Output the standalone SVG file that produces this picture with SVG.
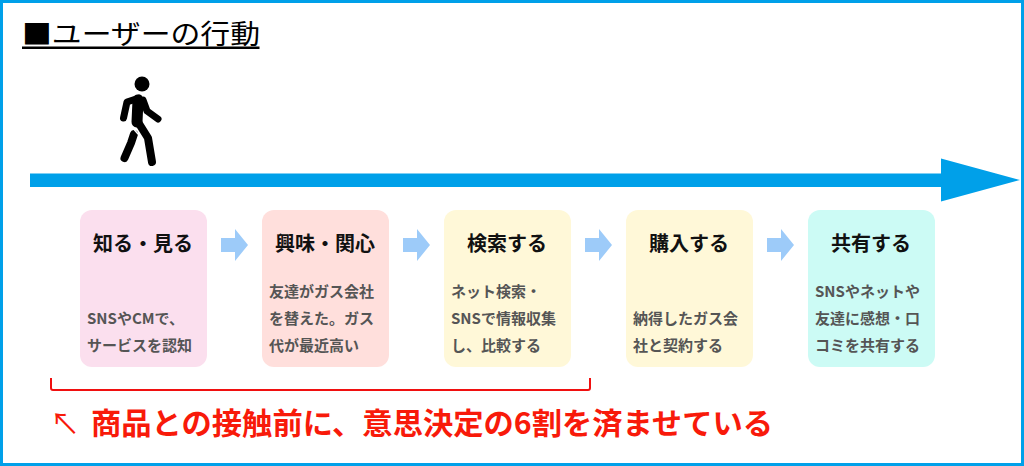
<svg xmlns="http://www.w3.org/2000/svg" width="1024" height="466" viewBox="0 0 1024 466">
<style>
text{font-family:"Noto Sans CJK JP","Liberation Sans",sans-serif}
.h{font-size:20px;font-weight:700;fill:#111;text-anchor:middle}
.b{font-size:15px;font-weight:700;fill:#555}
.ar{fill:#9dcbf9}
.limb{fill:none;stroke:#000;stroke-linecap:round;stroke-linejoin:round}
</style>
<rect width="1024" height="466" fill="#fff"/>
<rect x="1.500" y="1.500" width="1021" height="463" fill="none" stroke="#00a0e9" stroke-width="3"/>
<g id="title">
<text x="22" y="44" font-size="27" fill="#000" textLength="238" lengthAdjust="spacingAndGlyphs">■ユーザーの行動</text>
<rect x="22" y="46.500" width="237.500" height="2.500" fill="#000"/>
</g>
<g id="walker">
<circle cx="142" cy="84" r="7.500" fill="#000"/>
<path class="limb" stroke-width="7" d="M139 98L127 102L123.500 118"/>
<path class="limb" stroke-width="7" d="M143 100L147 111L158 119"/>
<path class="limb" stroke-width="11" d="M138 100L137 122"/>
<path class="limb" stroke-width="8" d="M138 122L148 138L152 162"/>
<path class="limb" stroke-width="8" d="M134 134L131 143L124.500 158"/>
<path d="M131 126L139 135" fill="none" stroke="#fff" stroke-width="1.500"/>
</g>
<g id="timeline">
<path d="M30 173.500H941V158.500L1020 180L941 201.500V187H30Z" fill="#00a0e9"/>
</g>
<g id="node1">
<rect x="80" y="210" width="127" height="157" rx="12" fill="#fbdfee"/>
<text class="h" x="143" y="251">知る・見る</text>
<text class="b" x="87" y="324">SNSやCMで、</text>
<text class="b" x="87" y="351">サービスを認知</text>
</g>
<g id="node2">
<rect x="262" y="210" width="127" height="157" rx="12" fill="#ffdfdc"/>
<text class="h" x="325" y="251">興味・関心</text>
<text class="b" x="269" y="297">友達がガス会社</text>
<text class="b" x="269" y="324">を替えた。ガス</text>
<text class="b" x="269" y="351">代が最近高い</text>
</g>
<g id="node3">
<rect x="444" y="210" width="127" height="157" rx="12" fill="#fff8d8"/>
<text class="h" x="507" y="251">検索する</text>
<text class="b" x="451" y="297">ネット検索・</text>
<text class="b" x="451" y="324">SNSで情報収集</text>
<text class="b" x="451" y="351">し、比較する</text>
</g>
<g id="node4">
<rect x="626" y="210" width="127" height="157" rx="12" fill="#fff8d8"/>
<text class="h" x="689" y="251">購入する</text>
<text class="b" x="633" y="324">納得したガス会</text>
<text class="b" x="633" y="351">社と契約する</text>
</g>
<g id="node5">
<rect x="808" y="210" width="127" height="157" rx="12" fill="#ccfbf5"/>
<text class="h" x="871" y="251">共有する</text>
<text class="b" x="815" y="297">SNSやネットや</text>
<text class="b" x="815" y="324">友達に感想・口</text>
<text class="b" x="815" y="351">コミを共有する</text>
</g>
<g id="connectors">
<path class="ar" d="M221 238H235V229L248 245L235 261V252H221Z"/>
<path class="ar" d="M403 238H417V229L430 245L417 261V252H403Z"/>
<path class="ar" d="M585 238H599V229L612 245L599 261V252H585Z"/>
<path class="ar" d="M767 238H781V229L794 245L781 261V252H767Z"/>
</g>
<g id="bracket">
<path d="M51 378V388Q51 390 53 390H588Q590 390 590 388V378" fill="none" stroke="#f01010" stroke-width="2"/>
</g>
<g id="note">
<text x="50" y="434" font-size="30" font-weight="400" fill="#f81a0a">↖</text>
<text x="91" y="434" font-size="30" font-weight="700" fill="#f81a0a" textLength="682" lengthAdjust="spacingAndGlyphs">商品との接触前に、意思決定の6割を済ませている</text>
</g>
</svg>
